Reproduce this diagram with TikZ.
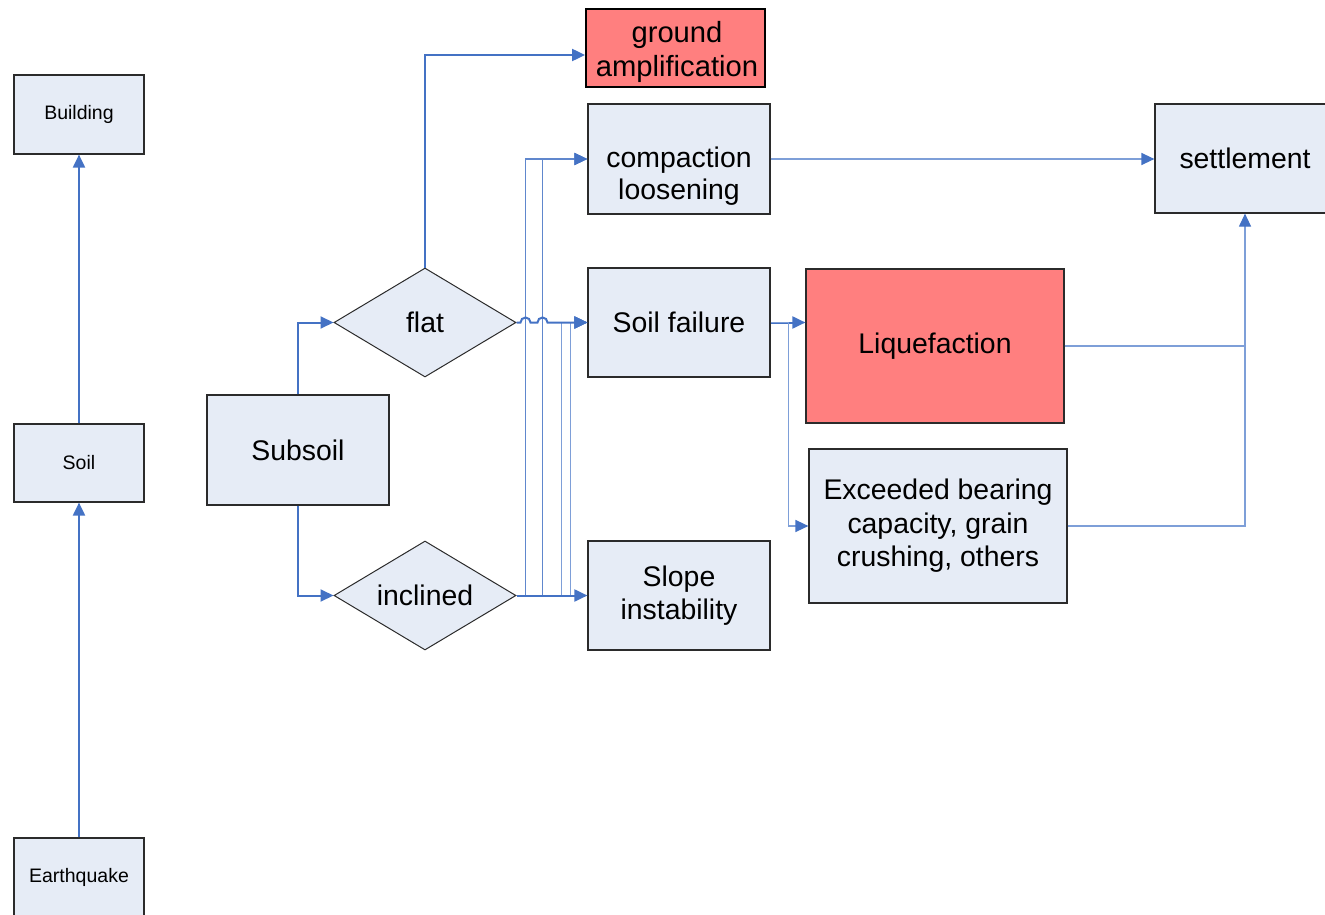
\documentclass[tikz,border=0pt]{standalone}
\usepackage{fontspec}
\setmainfont{Liberation Sans}
\usetikzlibrary{shapes.geometric,arrows.meta}
\definecolor{boxfill}{HTML}{E6ECF6}
\definecolor{redfill}{HTML}{FF7F7F}
\definecolor{lineblue}{HTML}{4472C4}
\definecolor{lightblue}{HTML}{7E9FD8}
\definecolor{boxline}{HTML}{2B2B2B}
\begin{document}
\begin{tikzpicture}[x=1pt,y=-1pt,
  bigtext/.style={font=\fontsize{28.4}{33.5}\selectfont},
  smalltext/.style={font=\fontsize{19.5}{24}\selectfont},
  box/.style={rectangle,draw=boxline,line width=1.2pt,fill=boxfill,inner sep=0pt,align=center,bigtext},
  redbox/.style={box,fill=redfill},
  dia/.style={diamond,draw=boxline,line width=1pt,fill=boxfill,inner sep=0pt,aspect=1.67,bigtext},
  tip/.style={-{Triangle[length=13pt,width=12pt,color=lineblue]}},
  conn/.style={draw=lineblue,line width=2pt,tip},
  thinconn/.style={draw=lightblue,line width=1.2pt,tip},
  vline/.style={draw=lightblue,line width=1.4pt,tip},
  plainline/.style={draw=lightblue,line width=1.2pt}
]
\useasboundingbox (0,0) rectangle (1325,915);

% left column
\node[box,smalltext,minimum width=130,minimum height=79] (building) at (79,114.5) {Building};
\node[box,smalltext,minimum width=130,minimum height=78] (soil) at (79,463) {Soil};
\node[box,smalltext,minimum width=130,minimum height=78] (earthquake) at (79,877) {Earthquake};

% subsoil and diamonds
\node[box,minimum width=182,minimum height=110] (subsoil) at (298,450) {Subsoil};
\node[dia,minimum width=182,minimum height=109] (flat) at (425,322.5) {flat};
\node[dia,minimum width=182,minimum height=109] (inclined) at (425,595.5) {inclined};

% middle column
\node[redbox,draw=black,line width=1.8pt,minimum width=179,minimum height=78] (groundamp) at (675.5,48) {};
\node[align=center,inner sep=0pt,font=\fontsize{29.2}{34}\selectfont] (gatext) at (677,51.5) {ground\\amplification};
\node[box,minimum width=182,minimum height=110] (compaction) at (679,159) {};
\node[align=center,inner sep=0pt,font=\fontsize{28.4}{31.5}\selectfont] (comptext) at (679,176) {compaction\\loosening};
\node[box,minimum width=182,minimum height=109] (soilfail) at (679,322.5) {Soil failure};
\node[box,minimum width=182,minimum height=109] (slope) at (679,595.5) {Slope\\instability};

% right
\node[redbox,draw=boxline,minimum width=258,minimum height=154] (liquef) at (935,346) {Liquefaction};
\node[box,minimum width=258,minimum height=154] (exceeded) at (938,526) {Exceeded bearing\\capacity, grain\\crushing, others};
\node[box,minimum width=180,minimum height=109] (settlement) at (1245,158.5) {settlement};

% connectors
\draw[conn] (earthquake.north) -- (soil.south);
\draw[conn] (soil.north) -- (building.south);
\draw[conn] (subsoil.north) |- (flat.west);
\draw[conn] (subsoil.south) |- (inclined.west);
\draw[conn] (flat.north) |- ([yshift=-7pt]groundamp.west);

% inclined to compaction and soil failure
\draw[vline,draw=lineblue!85] (inclined.east) -- ++(9,0) |- (compaction.west);
\draw[vline,draw=lineblue!85] (inclined.east) -- ++(26,0) |- (compaction.west);
\draw[vline] (inclined.east) -- ++(45,0) |- (soilfail.west);
\draw[vline] (inclined.east) -- ++(54,0) |- (soilfail.west);
\draw[conn] (inclined.east) -- (slope.west);

% flat to soil failure with hops
\draw[conn] (flat.east) -- ++(4,0) arc[start angle=180,end angle=360,radius=5]
  -- ++(7,0) arc[start angle=180,end angle=360,radius=5] -- (soilfail.west);

% compaction to settlement
\draw[thinconn] (compaction.east) -- (compaction.east -| settlement.west);

% soil failure branches
\draw[conn] (soilfail.east) -- (soilfail.east -| liquef.west);
\draw[vline] (soilfail.east) -- ++(18,0) |- (exceeded.west);

% to settlement
\draw[thinconn] (liquef.east) -| (settlement.south);
\draw[plainline] (exceeded.east) -| (liquef.east -| settlement.south);
\end{tikzpicture}
\end{document}
